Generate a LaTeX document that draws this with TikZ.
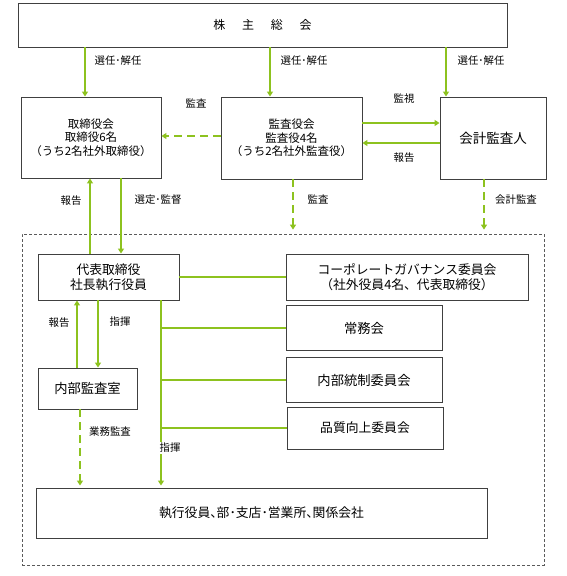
\documentclass[tikz,border=0pt]{standalone}
\usepackage{fontspec}
\setmainfont{Noto Sans CJK JP}
\usetikzlibrary{arrows.meta,calc}
\definecolor{grn}{RGB}{141,194,31}
\definecolor{bgray}{RGB}{64,64,64}
\definecolor{dgray}{RGB}{90,90,90}
\newcommand{\hten}{\makebox[0.5em][l]{、}}
\begin{document}
\begin{tikzpicture}[x=1pt,y=-1pt,
 box/.style={draw=bgray,line width=0.9pt,inner sep=0pt,align=center,font=\fontsize{12.8}{15}\selectfont},
 sbox/.style={box,font=\fontsize{11.5}{13.5}\selectfont},
 lbl/.style={fill=white,inner sep=1.5pt,font=\fontsize{10.4}{12}\selectfont},
 gline/.style={draw=grn,line width=1.6pt},
 garr/.style={gline,-{Triangle[width=6pt,length=5pt]}},
 gdash/.style={garr,dash pattern=on 8pt off 5pt},
]
\useasboundingbox (0,0) rectangle (567,576);

% outer dashed frame
\node[draw=dgray,line width=0.8pt,dash pattern=on 3pt off 2pt,minimum width=522pt,minimum height=331pt,inner sep=0pt] (outer) at (283,399.5) {};

% boxes
\node[box,minimum width=489pt,minimum height=44pt,font=\fontsize{12}{14}\selectfont] (kabu) at (262.5,25) {株\hspace{1.4em}主\hspace{1.4em}総\hspace{1.4em}会};
\node[sbox,minimum width=140pt,minimum height=81pt] (tori) at (91,137.5) {取締役会\\取締役6名\\（うち2名社外取締役）};
\node[sbox,minimum width=141pt,minimum height=82pt] (kansa) at (291.5,138) {監査役会\\監査役4名\\（うち2名社外監査役）};
\node[box,minimum width=106pt,minimum height=82pt,font=\fontsize{13.5}{15}\selectfont] (kaikei) at (493,138) {会計監査人};
\node[box,minimum width=141pt,minimum height=46pt] (daihyo) at (108.5,277) {代表取締役\\社長執行役員};
\node[box,minimum width=242pt,minimum height=46pt] (cg) at (407,277) {コーポレートガバナンス委員会\\（社外役員4名、代表取締役）};
\node[box,minimum width=156pt,minimum height=45pt,font=\fontsize{13.3}{15}\selectfont] (joumu) at (364,328) {常務会};
\node[box,minimum width=156pt,minimum height=45pt,font=\fontsize{13.3}{15}\selectfont] (naitou) at (364,380) {内部統制委員会};
\node[box,minimum width=156pt,minimum height=42pt] (hinshitsu) at (365,428) {品質向上委員会};
\node[box,minimum width=99pt,minimum height=41pt,font=\fontsize{13.3}{15}\selectfont] (naikan) at (87.5,388.5) {内部監査室};
\node[box,minimum width=451pt,minimum height=50pt] (shikkou) at (261.5,513) {執行役員\hten 部･支店･営業所\hten 関係会社};

% x positions
\coordinate (xa) at (85,0);
\coordinate (xb) at (270,0);
\coordinate (xc) at (446,0);
\coordinate (xr) at (90,0);
\coordinate (xs) at (121,0);
\coordinate (xk) at (293,0);
\coordinate (xkk) at (484,0);
\coordinate (xv) at (161,0);
\coordinate (xh) at (77,0);
\coordinate (xi) at (98,0);
\coordinate (xg) at (80,0);
% y positions
\coordinate (yk) at (0,136);
\coordinate (ym) at (0,123);
\coordinate (yh) at (0,143);

% connectors
\draw[garr] (kabu.south -| xa) -- (tori.north -| xa);
\draw[garr] (kabu.south -| xb) -- (kansa.north -| xb);
\draw[garr] (kabu.south -| xc) -- (kaikei.north -| xc);
\draw[gdash] (kansa.west |- yk) -- (tori.east |- yk);
\draw[garr] (kansa.east |- ym) -- (kaikei.west |- ym);
\draw[garr] (kaikei.west |- yh) -- (kansa.east |- yh);
\draw[garr] (daihyo.north -| xr) -- (tori.south -| xr);
\draw[garr] (tori.south -| xs) -- (daihyo.north -| xs);
\draw[gdash] (kansa.south -| xk) -- ([yshift=4pt]outer.north -| xk);
\draw[gdash] (kaikei.south -| xkk) -- ([yshift=4pt]outer.north -| xkk);
\draw[gline] (daihyo.east) -- (cg.west);
\draw[garr] (daihyo.south -| xv) -- ([yshift=2pt]shikkou.north -| xv);
\draw[gline] (joumu.west) -- (joumu.west -| xv);
\draw[gline] (naitou.west) -- (naitou.west -| xv);
\draw[gline] (hinshitsu.west) -- (hinshitsu.west -| xv);
\draw[garr] (naikan.north -| xh) -- (daihyo.south -| xh);
\draw[garr] (daihyo.south -| xi) -- (naikan.north -| xi);
\draw[gdash] (naikan.south -| xg) -- ([yshift=2pt]shikkou.north -| xg);

% labels
\node[lbl] (l1) at (118,61) {選任･解任};
\node[lbl] (l2) at (304,61) {選任･解任};
\node[lbl] (l3) at (481,61) {選任･解任};
\node[lbl] (l4) at (196,103) {監査};
\node[lbl] (l5) at (404,99) {監視};
\node[lbl] (l6) at (404,158) {報告};
\node[lbl] (l7) at (71,201) {報告};
\node[lbl] (l8) at (158,200) {選定･監督};
\node[lbl] (l9) at (318,199) {監査};
\node[lbl] (l10) at (516,200) {会計監査};
\node[lbl] (l11) at (59,323) {報告};
\node[lbl] (l12) at (120,322) {指揮};
\node[lbl] (l13) at (110,432) {業務監査};
\node[lbl] (l14) at (170,448) {指揮};
\end{tikzpicture}
\end{document}
